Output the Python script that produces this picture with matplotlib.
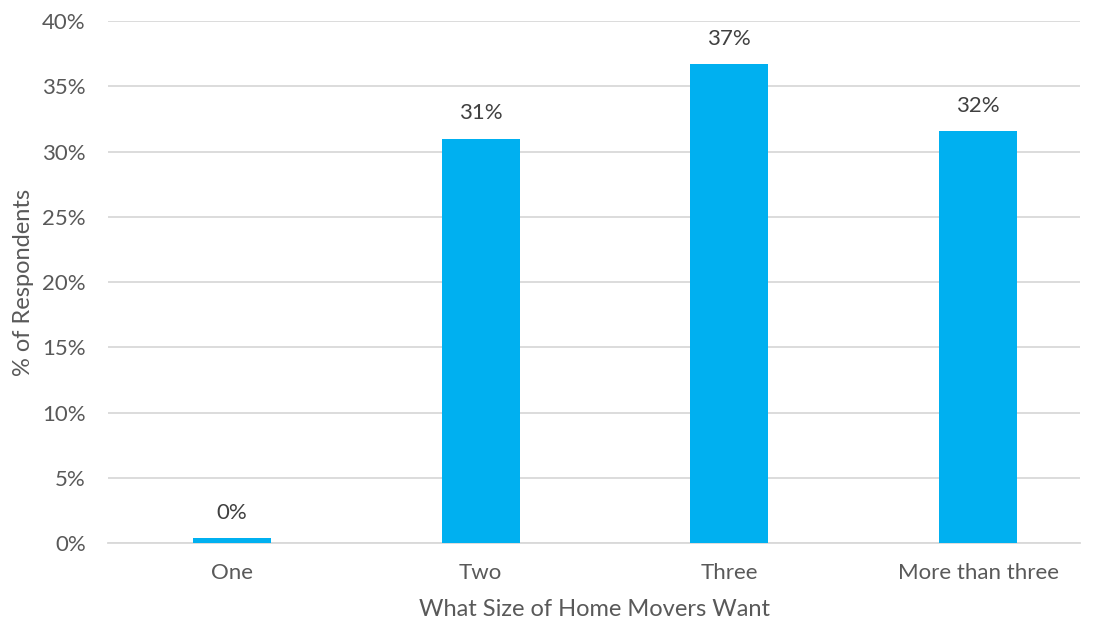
import matplotlib.pyplot as plt
from matplotlib.ticker import PercentFormatter

categories = ["One", "Two", "Three", "More than three"]
values = [0.4, 31.0, 36.7, 31.6]
labels = ["0%", "31%", "37%", "32%"]

plt.rcParams["font.family"] = ["Lato", "DejaVu Sans"]

fig = plt.figure(figsize=(10.96, 6.23), dpi=100)
ax = fig.add_axes([0.0985, 0.128, 0.887, 0.838])

x = range(len(categories))
bars = ax.bar(x, values, width=0.313, color="#00B0F0", zorder=3)

# value labels above the bars
for b, lab in zip(bars, labels):
    ax.annotate(lab, (b.get_x() + b.get_width() / 2, b.get_height()),
                xytext=(0, 11), textcoords="offset points",
                ha="center", va="bottom", fontsize=16, color="#404040")

ax.set_ylim(0, 40)
ax.set_xlim(-0.498, 3.41)
ax.set_yticks(range(0, 41, 5))
ax.yaxis.set_major_formatter(PercentFormatter(decimals=0))
ax.set_xticks(list(x))
ax.set_xticklabels(categories)
ax.tick_params(axis="both", length=0, labelsize=16, colors="#595959")
ax.tick_params(axis="y", pad=16)
ax.tick_params(axis="x", pad=14)

ax.grid(axis="y", color="#D9D9D9", linewidth=1.3, zorder=0)
for s in ["top", "right", "left"]:
    ax.spines[s].set_visible(False)
ax.spines["bottom"].set_color("#D9D9D9")
ax.spines["bottom"].set_linewidth(1.3)

ax.set_xlabel("What Size of Home Movers Want", fontsize=17, color="#595959", labelpad=12)
ax.set_ylabel("% of Respondents", fontsize=17, color="#595959", labelpad=6)

fig.savefig("out.png", dpi=100)
